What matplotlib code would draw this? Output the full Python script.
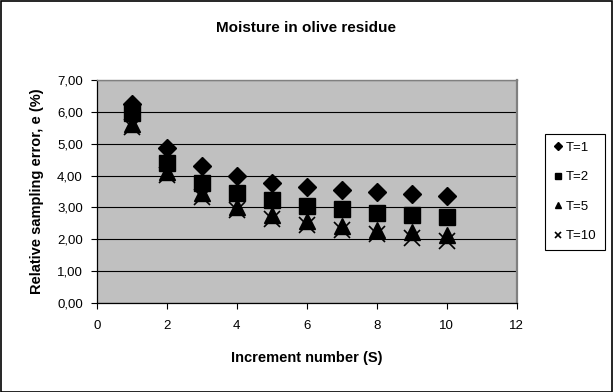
import matplotlib
matplotlib.use("Agg")
import matplotlib.pyplot as plt
from matplotlib.patches import Rectangle
from matplotlib.ticker import FuncFormatter

plt.rcParams['font.family'] = ['Liberation Sans', 'DejaVu Sans']

increments = [1, 2, 3, 4, 5, 6, 7, 8, 9, 10]
t1 = [6.26, 4.88, 4.30, 3.98, 3.78, 3.65, 3.54, 3.50, 3.41, 3.36]
t2 = [5.95, 4.40, 3.77, 3.44, 3.23, 3.04, 2.94, 2.83, 2.75, 2.71]
t5 = [5.63, 4.12, 3.44, 3.02, 2.76, 2.58, 2.41, 2.29, 2.24, 2.13]
t10 = [5.53, 4.01, 3.33, 2.92, 2.65, 2.45, 2.29, 2.18, 2.03, 1.95]
series_labels = ["T=1", "T=2", "T=5", "T=10"]
title = "Moisture in olive residue"
xlabel = "Increment number (S)"
ylabel = "Relative sampling error, e (%)"

W, H = 613, 392
fig = plt.figure(figsize=(W / 100, H / 100), dpi=100)
fig.patches.append(Rectangle((0.5 / W, 0.5 / H), 1 - 1.5 / W, 1 - 1.5 / H,
                             transform=fig.transFigure, fill=False,
                             edgecolor='black', linewidth=1.2))

left, right, top, bottom = 96.7, 516.7, 80, 303
ax = fig.add_axes([left / W, 1 - bottom / H, (right - left) / W, (bottom - top) / H])
ax.set_facecolor('#C0C0C0')

ax.plot(increments, t1, linestyle='none', marker='D', markersize=9.5, color='black', label=series_labels[0], zorder=3)
ax.plot(increments, t2, linestyle='none', marker='s', markersize=11, color='black', label=series_labels[1], zorder=4)
ax.plot(increments, t5, linestyle='none', marker='^', markersize=11, color='black', label=series_labels[2], zorder=5)
ax.plot(increments, t10, linestyle='none', marker='x', markersize=11, markeredgewidth=1.2, color='black', label=series_labels[3], zorder=6)

ax.set_xlim(0, 12)
ax.set_ylim(0, 7)
ax.set_xticks(range(0, 13, 2))
ax.set_yticks(range(0, 8))
ax.yaxis.set_major_formatter(FuncFormatter(lambda v, p: f"{v:.2f}".replace('.', ',')))
ax.grid(axis='y', color='black', linewidth=0.8)
ax.set_axisbelow(True)
ax.tick_params(axis='both', direction='out', length=4, width=0.8, labelsize=9.5, colors='black')
ax.tick_params(axis='y', pad=6)
ax.tick_params(axis='x', pad=8)
for s in ['left', 'bottom']:
    ax.spines[s].set_color('black')
    ax.spines[s].set_linewidth(0.9)
ax.spines['top'].set_color('#808080')
ax.spines['top'].set_linewidth(1.0)
ax.spines['right'].set_color('#808080')
ax.spines['right'].set_linewidth(1.6)

ax.set_xlabel(xlabel, fontsize=10.5, fontweight='bold')
ax.set_ylabel(ylabel, fontsize=10.5, fontweight='bold')
ax.xaxis.set_label_coords((306.7 - left) / (right - left), -(351 - bottom) / (bottom - top))
ax.yaxis.set_label_coords(-(left - 44) / (right - left), 0.5)

fig.text(0.5, 1 - 28 / H, title, ha='center', va='center', fontsize=11, fontweight='bold')

leg = ax.legend(loc='center left', bbox_to_anchor=(545 / W, 1 - 192 / H),
                bbox_transform=fig.transFigure, borderaxespad=0, fontsize=9.5,
                frameon=True, fancybox=False, edgecolor='black', framealpha=1,
                handlelength=0.7, handletextpad=0.3, labelspacing=1.3,
                borderpad=0.6, markerscale=0.45)
leg.get_frame().set_linewidth(0.8)

fig.savefig("out.png", dpi=100)
